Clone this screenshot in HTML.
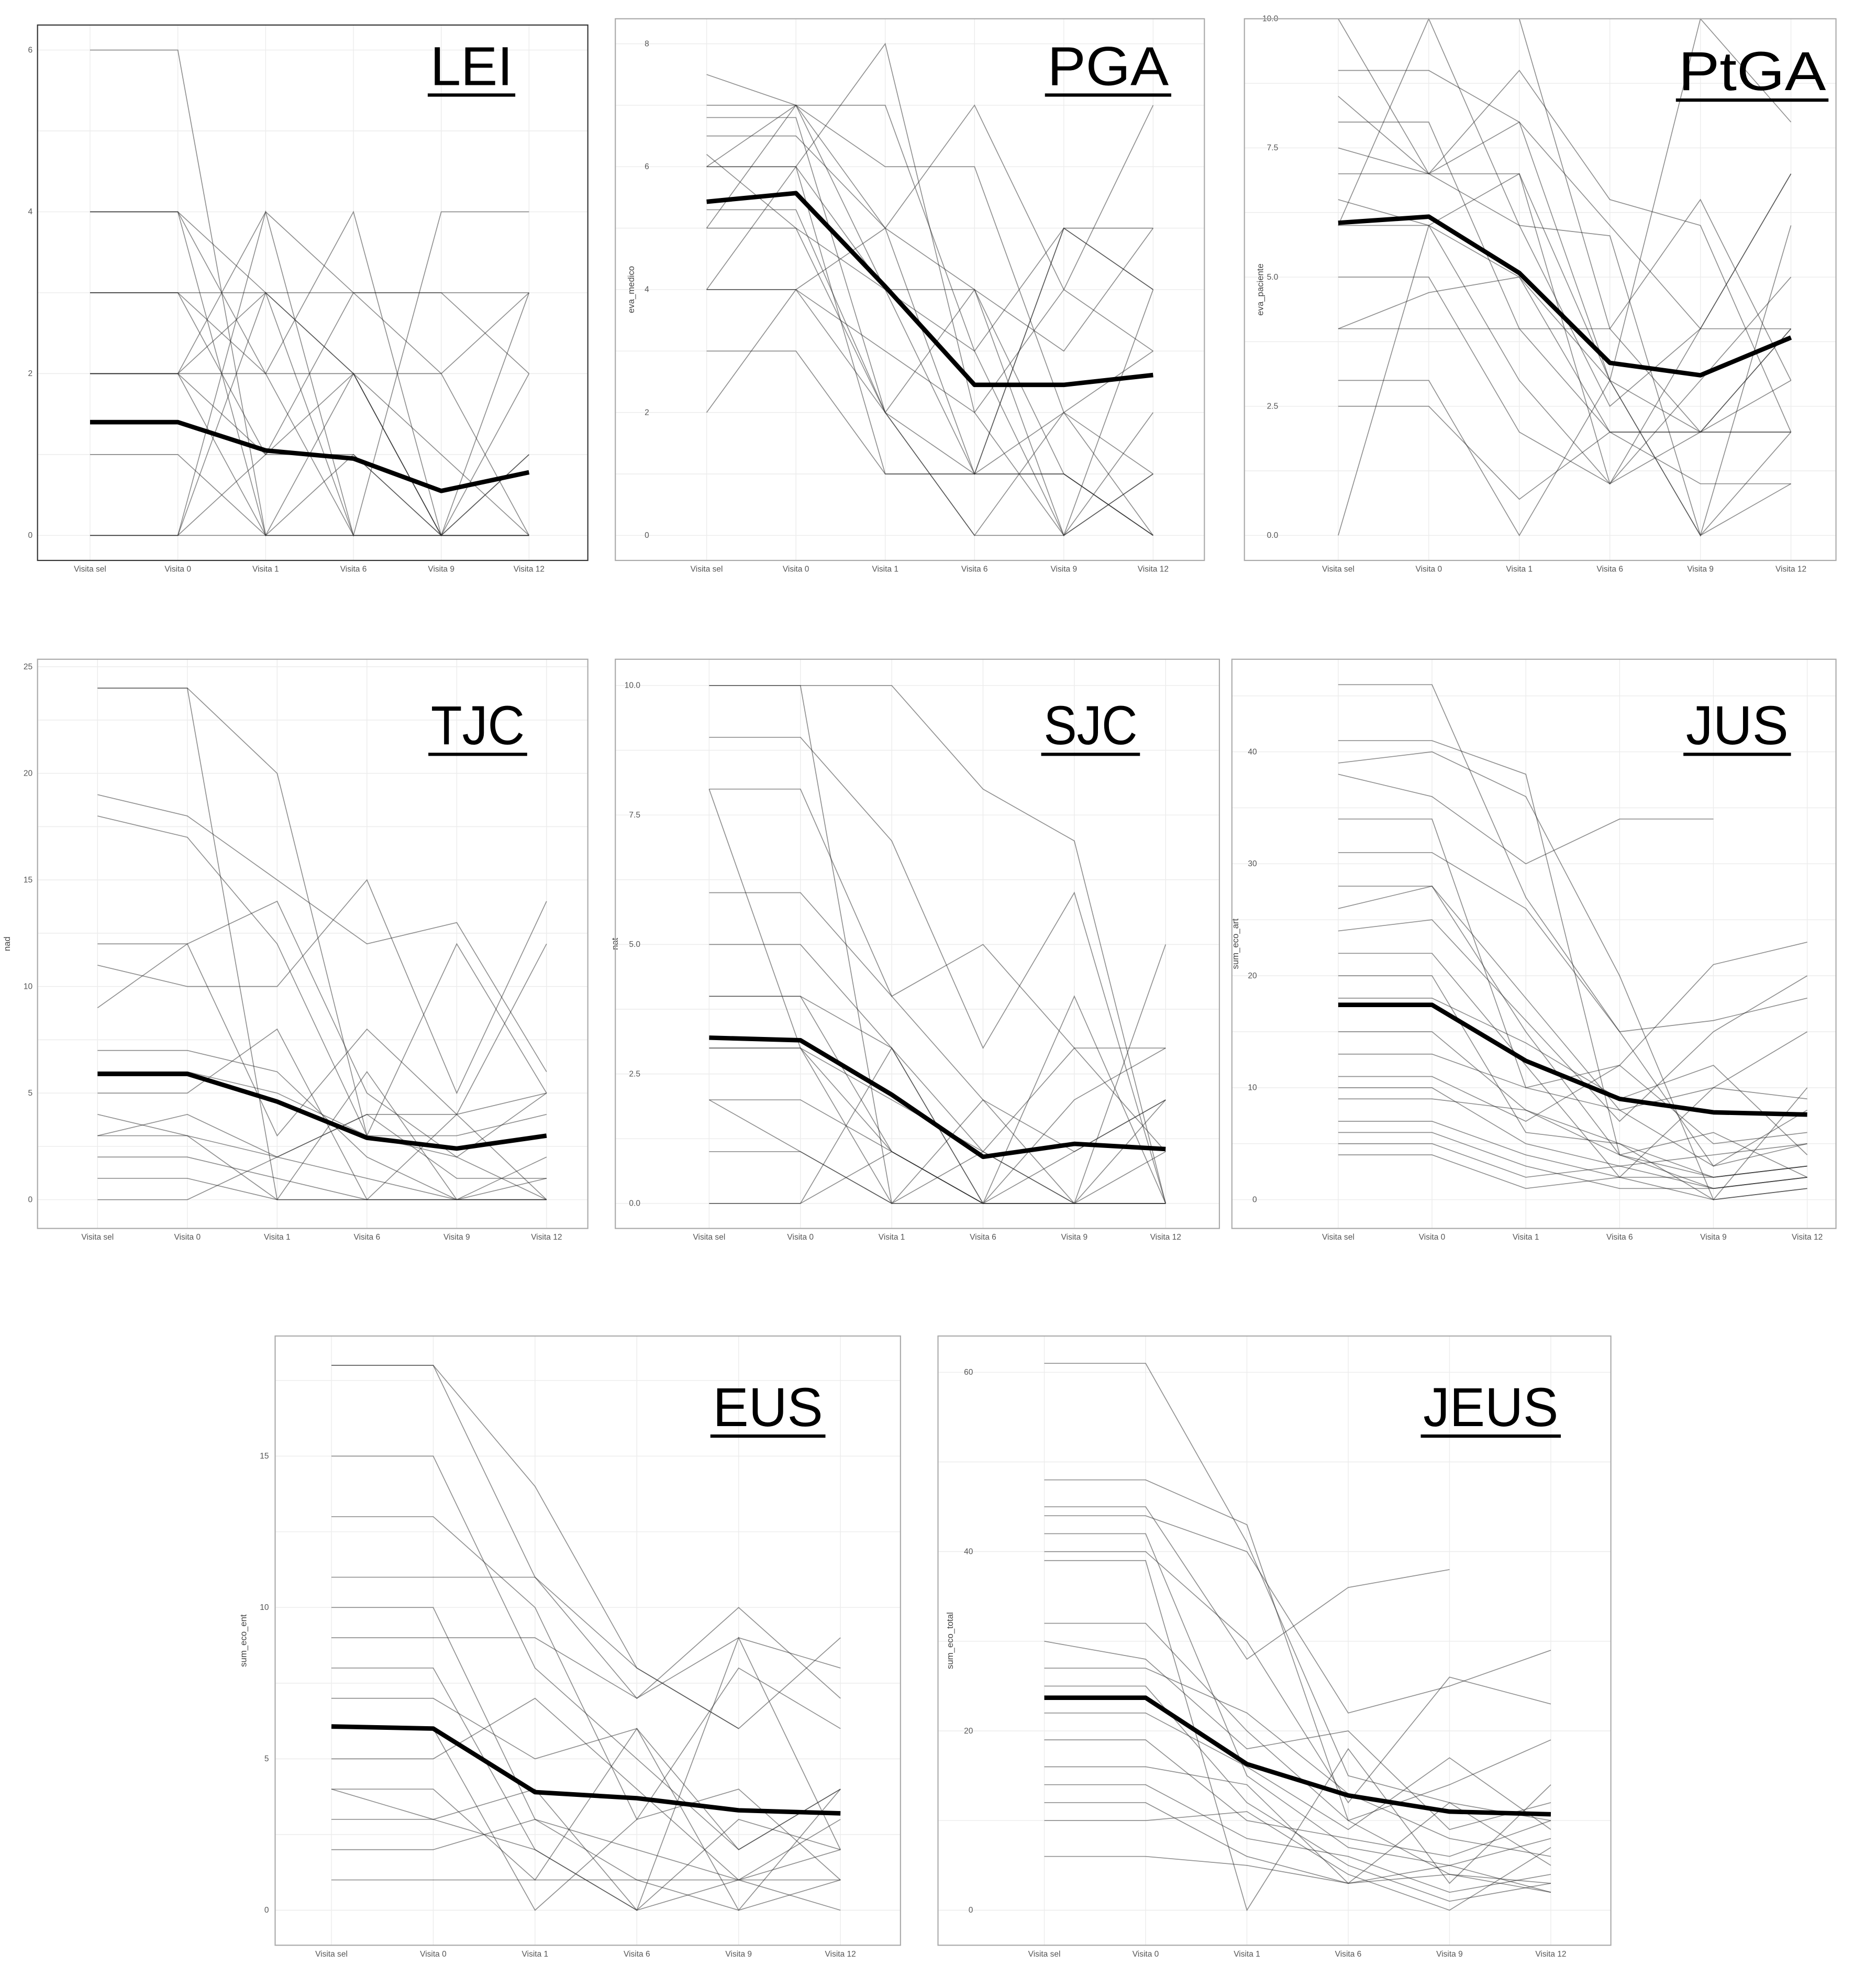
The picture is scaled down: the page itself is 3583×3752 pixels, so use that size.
<!DOCTYPE html>
<html><head><meta charset="utf-8"><style>
html,body{margin:0;padding:0;background:#fff}
svg{display:block}
text{font-family:"Liberation Sans",sans-serif}
</style></head><body>
<svg id="fig" xmlns="http://www.w3.org/2000/svg" width="3583" height="3752" viewBox="0 0 1500 1570.8" preserveAspectRatio="none"></svg>
<script>
const categories=["Visita sel","Visita 0","Visita 1","Visita 6","Visita 9","Visita 12"];
const leiMean=[1.4,1.4,1.05,0.95,0.55,0.78];
const leiSubjects=[[6,6,0,0,0,0],[4,4,3,2,1,0],[4,4,2,4,0,0],[3,3,2,0,0,1],[3,3,1,1,0,0],[2,2,4,3,2,3],[2,2,0,2,0,0],[2,2,3,0,4,4],[2,2,1,3,3,3],[1,1,0,0,0,1],[0,0,3,2,0,2],[0,0,1,2,0,0],[0,0,0,0,0,0],[4,4,0,1,0,3],[3,3,3,3,3,2],[2,2,2,2,2,0],[0,0,4,0,0,0]];
const leiTicks=[0,2,4,6];
const pgaMean=[5.43,5.57,4.05,2.45,2.45,2.61];
const pgaSubjects=[[7.5,7,7,3,5,4],[7,7,4,1,1,0],[6.8,6.8,2,0,2,3],[6.5,6.5,5,4,0,1],[6,7,6,6,2,1],[6,6,1,1,5,5],[5.3,5.3,2,1,2,0],[5,5,4,3,0,2],[4,4,5,7,4,3],[4,4,2,4,1,0],[3,3,1,1,1,0],[2,4,3,2,4,7],[6,6,8,2,0,4],[5,7,5,1,5,4],[6.2,5,2,0,0,1],[4,6,4,4,3,5]];
const pgaTicks=[0,2,4,6,8];
const ptgaMean=[6.05,6.17,5.08,3.34,3.1,3.83];
const ptgaSubjects=[[10,10,10,4,2,2],[9,9,8,6,4,7],[8.5,7,6,5.8,0,6],[8,8,4,2,2,2],[7.5,7,9,6.5,6,2],[7,7,7,3,2,4],[6.5,6,5,3,10,8],[6,6,3,1,3,5],[5,5,2,1,2,3],[4,4,4,4,6.5,3],[3,3,0,3,0,1],[2.5,2.5,0.7,2,2,4],[0,6,7,1,4,7],[10,7,8,3,0,2],[6,10,6,2.5,4,4],[4,4.7,5,2,1,1]];
const ptgaTicks=[0,2.5,5,7.5,10];
const tjcMean=[5.9,5.9,4.6,2.9,2.4,3.0];
const tjcSubjects=[[24,24,0,0,0,0],[24,24,20,3,2,0],[19,18,15,12,13,6],[18,17,12,3,12,5],[12,12,14,5,2,5],[11,10,10,15,5,14],[9,12,3,8,4,0],[7,7,6,2,0,2],[6,6,5,3,3,4],[5,5,8,0,4,12],[4,3,2,1,0,1],[3,4,2,4,4,5],[2,2,1,0,0,0],[1,1,0,0,0,0],[0,0,2,4,1,1],[3,3,0,6,0,0]];
const tjcTicks=[0,5,10,15,20,25];
const sjcMean=[3.2,3.15,2.1,0.9,1.15,1.05];
const sjcSubjects=[[10,10,0,0,0,0],[10,10,10,8,7,0],[9,9,7,3,6,0],[8,8,4,5,3,3],[8,3,1,0,0,2],[6,6,4,2,0,0],[5,5,3,0,1,2],[4,4,3,1,3,1],[4,4,1,0,0,5],[3,3,2,1,0,1],[3,3,0,0,2,3],[2,2,1,0,4,0],[1,1,0,1,0,0],[0,0,3,0,0,0],[2,1,0,2,1,2],[0,0,1,0,0,0]];
const sjcTicks=[0,2.5,5,7.5,10];
const jusMean=[17.4,17.4,12.4,9.0,7.8,7.6];
const jusSubjects=[[46,46,27,15,16,18],[41,41,38,4,2,3],[39,40,36,20,0,10],[38,36,30,34,34,null],[34,34,10,12,21,23],[31,31,26,15,3,5],[28,28,15,4,1,2],[26,28,18,8,10,9],[24,25,16,7,15,20],[22,22,12,2,10,15],[20,20,6,5,2,3],[18,18,14,9,12,4],[15,15,8,4,6,2],[13,13,10,8,3,8],[11,11,7,12,5,6],[10,10,5,3,1,2],[9,9,8,5,0,1],[7,7,4,2,2,3],[6,6,3,1,1,2],[5,5,2,3,4,5],[4,4,1,2,0,1]];
const jusTicks=[0,10,20,30,40];
const eusMean=[6.07,6.0,3.9,3.7,3.3,3.2];
const eusSubjects=[[18,18,14,8,6,null],[18,18,11,7,9,8],[15,15,8,5,2,4],[13,13,10,3,8,6],[11,11,11,8,6,9],[10,10,3,2,1,2],[9,9,9,7,10,7],[8,8,2,0,1,3],[7,7,5,6,2,4],[6,6,0,3,4,1],[5,5,7,4,1,0],[4,4,1,6,0,4],[3,3,2,0,3,2],[2,2,3,1,0,1],[1,1,1,1,1,1],[4,3,4,0,9,2]];
const eusTicks=[0,5,10,15];
const jeusMean=[23.7,23.7,16.3,12.8,11,10.7];
const jeusSubjects=[[61,61,41,15,12,10],[48,48,43,10,4,3],[45,45,28,36,38,null],[44,44,40,22,25,29],[42,42,15,7,5,8],[40,40,30,12,26,23],[39,39,0,18,3,14],[32,32,20,10,14,19],[30,28,18,20,9,12],[27,27,22,13,8,6],[25,25,12,5,1,3],[22,22,16,9,17,9],[19,19,10,8,6,10],[16,16,14,3,12,5],[14,14,8,6,2,4],[12,12,6,3,4,2],[10,10,11,4,0,7],[6,6,5,3,5,2]];
const jeusTicks=[0,20,40,60];

const NS="http://www.w3.org/2000/svg";
const svg=document.getElementById('fig');
function mk(tag,attrs,parent){const e=document.createElementNS(NS,tag);for(const k in attrs)e.setAttribute(k,attrs[k]);(parent||svg).appendChild(e);return e;}

const panels=[
 {key:'lei',title:'LEI',ylab:'',mean:leiMean,subs:leiSubjects,ticks:leiTicks,dec:0,bx0:30,bx1:470,by0:20,by1:448,cx0:72,step:70.2,y0:428,yTop:40,vTop:6,tx:377,ty:68,tw:66,border:'#333',tickX:26,ylX:12},
 {key:'pga',title:'PGA',ylab:'eva_medico',mean:pgaMean,subs:pgaSubjects,ticks:pgaTicks,dec:0,bx0:492,bx1:963,by0:15,by1:448,cx0:565,step:71.4,y0:428,yTop:35,vTop:8,tx:886,ty:68,tw:97,border:'#aaa',tickX:519,ylX:507},
 {key:'ptga',title:'PtGA',ylab:'eva_paciente',mean:ptgaMean,subs:ptgaSubjects,ticks:ptgaTicks,dec:1,bx0:995,bx1:1468,by0:15,by1:448,cx0:1070,step:72.4,y0:428,yTop:15,vTop:10,tx:1401,ty:72,tw:118,border:'#aaa',tickX:1022,ylX:1010},
 {key:'tjc',title:'TJC',ylab:'nad',mean:tjcMean,subs:tjcSubjects,ticks:tjcTicks,dec:0,bx0:30,bx1:470,by0:527,by1:982,cx0:78,step:71.8,y0:959,yTop:533,vTop:25,tx:382,ty:595,tw:75,border:'#aaa',tickX:26,ylX:8},
 {key:'sjc',title:'SJC',ylab:'nat',mean:sjcMean,subs:sjcSubjects,ticks:sjcTicks,dec:1,bx0:492,bx1:975,by0:527,by1:982,cx0:567,step:73,y0:962,yTop:548,vTop:10,tx:872,ty:595,tw:75,border:'#aaa',tickX:512,ylX:494},
 {key:'jus',title:'JUS',ylab:'sum_eco_art',mean:jusMean,subs:jusSubjects,ticks:jusTicks,dec:0,bx0:985,bx1:1468,by0:527,by1:982,cx0:1070,step:75,y0:959,yTop:601,vTop:40,tx:1389,ty:595,tw:82,border:'#aaa',tickX:1005,ylX:990},
 {key:'eus',title:'EUS',ylab:'sum_eco_ent',mean:eusMean,subs:eusSubjects,ticks:eusTicks,dec:0,bx0:220,bx1:720,by0:1068,by1:1555,cx0:265,step:81.4,y0:1527,yTop:1164,vTop:15,tx:614,ty:1140,tw:88,border:'#aaa',tickX:215,ylX:197},
 {key:'jeus',title:'JEUS',ylab:'sum_eco_total',mean:jeusMean,subs:jeusSubjects,ticks:jeusTicks,dec:0,bx0:750,bx1:1288,by0:1068,by1:1555,cx0:835,step:81,y0:1527,yTop:1097,vTop:60,tx:1192,ty:1140,tw:108,border:'#aaa',tickX:778,ylX:762}
];

panels.forEach(p=>{
 const g=mk('g',{});
 
 
 const xS=i=>p.cx0+i*p.step;
 const yS=v=>p.y0-(v/p.vTop)*(p.y0-p.yTop);
 const gt=p.ticks[1]-p.ticks[0];
 for(let v=p.ticks[0]-gt/2;v<=p.ticks[p.ticks.length-1]+gt/2+1e-9;v+=gt/2){
  const y=yS(v); if(y<p.by0||y>p.by1) continue;
  mk('line',{x1:p.bx0,x2:p.bx1,y1:y,y2:y,stroke:'#ececec','stroke-width':0.6},g);
 }
 categories.forEach((c,i)=>{
  mk('line',{x1:xS(i),x2:xS(i),y1:p.by0,y2:p.by1,stroke:'#ececec','stroke-width':0.6},g);
  const t=mk('text',{x:xS(i),y:p.by1+9,'font-size':6.5,fill:'#555','text-anchor':'middle'},g);
  t.textContent=c;
  
  
 });
 p.ticks.forEach(v=>{
  const t=mk('text',{x:p.tickX,y:yS(v)+2,'font-size':6.5,fill:'#555','text-anchor':'end'},g);
  t.textContent=p.dec?v.toFixed(1):String(v);
  
  
 });
 if(p.ylab){
  const cy=(p.by0+p.by1)/2;
  const t=mk('text',{x:p.ylX,y:cy,'font-size':7,fill:'#444','text-anchor':'middle',transform:'rotate(-90 '+p.ylX+' '+cy+')'},g);
  t.textContent=p.ylab;
  
  
 }
 p.subs.forEach(s=>{
  let d='';let pen=false;
  s.forEach((v,i)=>{if(v===null){pen=false;return;}d+=(pen?'L':'M')+xS(i)+' '+yS(v)+' ';pen=true;});
  const l=mk('path',{d:d,fill:'none',stroke:'#222','stroke-opacity':0.5,'stroke-width':0.7},g);
  
  
 });
 const md=p.mean.map((v,i)=>(i?'L':'M')+xS(i)+' '+yS(v)).join(' ');
 const ml=mk('path',{d:md,fill:'none',stroke:'#000','stroke-width':3.6,'stroke-linejoin':'round'},g);
 
 
 const br=mk('rect',{x:p.bx0,y:p.by0,width:p.bx1-p.bx0,height:p.by1-p.by0,fill:'none',stroke:p.border,'stroke-width':0.9},g);
 
 
 const tt=mk('text',{x:p.tx,y:p.ty,'font-size':44,fill:'#000','text-anchor':'middle',textLength:p.tw,lengthAdjust:'spacingAndGlyphs'},g);
 tt.textContent=p.title;
 
 
 const ul=mk('line',{x1:p.tx-p.tw/2-2,x2:p.tx+p.tw/2+2,y1:p.ty+8,y2:p.ty+8,stroke:'#000','stroke-width':2.6},g);
 
 
});
</script>
</body></html>
